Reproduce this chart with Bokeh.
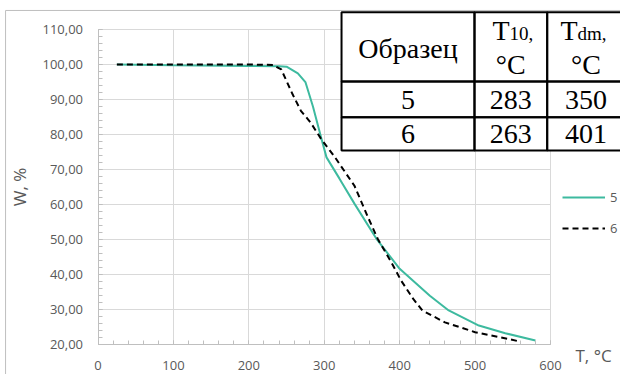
from bokeh.plotting import figure
from bokeh.models import (Range1d, CustomJSTickFormatter, Legend, LegendItem,
                          Label, BoxAnnotation, SingleIntervalTicker)
from bokeh.embed import file_html
from bokeh.resources import INLINE

# --- data ---
T5 = [25, 100, 200, 240, 250, 265, 275, 285, 296, 303, 320, 340, 370, 400, 440, 465, 505, 540, 580]
W5 = [100.0, 99.8, 99.6, 99.5, 99.4, 97.5, 95.0, 88.0, 79.0, 73.5, 67.5, 60.3, 50.0, 41.7, 34.0, 29.8, 25.5, 23.3, 21.2]

T6 = [25, 100, 200, 232, 243, 258, 269, 282, 296, 313, 340, 358, 371, 389, 402, 418, 430, 460, 500, 530, 558]
W6 = [100.0, 100.0, 100.0, 99.9, 98.6, 91.5, 86.8, 83.4, 78.7, 73.9, 65.4, 56.4, 50.2, 43.5, 38.3, 33.1, 29.8, 26.4, 23.6, 22.3, 21.0]

series_names = ["5", "6"]
table_col0_header = "Образец"
table_T_subs = ["10,", "dm,"]
table_rows = [["5", "283", "350"], ["6", "263", "401"]]

X_MIN, X_MAX = 0, 600
Y_MIN, Y_MAX = 20, 110

GRAY_TXT = "#595959"
AXIS_COL = "#bfbfbf"
GRID_COL = "#d9d9d9"
TEAL = "#3dba9f"
SANS = "Open Sans"
SERIF = "Liberation Serif"

# frame covers the whole canvas; axes sit at fixed data locations
p = figure(width=620, height=374, output_backend="svg", toolbar_location=None,
           x_range=Range1d(-129.3, 692.8), y_range=Range1d(11.52, 118.28),
           min_border=0, min_border_left=0, min_border_right=0,
           min_border_top=0, min_border_bottom=0)
p.outline_line_color = None
p.background_fill_color = "white"
p.border_fill_color = "white"

# outer chart border (only left/top edges are inside the picture)
p.add_layout(BoxAnnotation(left=-122.6, right=705, top=115.43, bottom=8,
                           fill_color=None, line_color="#bfbfbf", line_alpha=1, line_width=1))

xa = p.xaxis[0]
ya = p.yaxis[0]
xa.fixed_location = Y_MIN
ya.fixed_location = X_MIN
xa.bounds = (X_MIN, X_MAX)
ya.bounds = (Y_MIN, Y_MAX)
xa.ticker = SingleIntervalTicker(interval=100, num_minor_ticks=5)
ya.ticker = SingleIntervalTicker(interval=10, num_minor_ticks=5)
ya.formatter = CustomJSTickFormatter(code="return tick.toFixed(2).replace('.', ',');")
for ax in (xa, ya):
    ax.axis_line_color = AXIS_COL
    ax.major_tick_line_color = AXIS_COL
    ax.minor_tick_line_color = AXIS_COL
    ax.major_tick_in = 4
    ax.major_tick_out = 0
    ax.minor_tick_in = 4
    ax.minor_tick_out = 0
    ax.major_label_text_font = SANS
    ax.major_label_text_font_size = "13px"
    ax.major_label_text_color = GRAY_TXT
xa.major_label_standoff = 16
ya.major_label_standoff = 15
ya.axis_label = "W, %"
ya.axis_label_text_font = SANS
ya.axis_label_text_font_size = "17px"
ya.axis_label_text_font_style = "normal"
ya.axis_label_text_color = GRAY_TXT
ya.axis_label_standoff = 9

xg = p.xgrid[0]
yg = p.ygrid[0]
xg.bounds = (X_MIN, X_MAX)
xg.cross_bounds = (Y_MIN, Y_MAX)
yg.bounds = (Y_MIN, Y_MAX)
yg.cross_bounds = (X_MIN, X_MAX)
for g in (xg, yg):
    g.grid_line_color = GRID_COL
    g.grid_line_width = 1

r5 = p.line(T5, W5, line_color=TEAL, line_width=2)
r6 = p.line(T6, W6, line_color="black", line_width=2, line_dash="6 4")

# legend (location in px from the frame's bottom-left corner)
legend = Legend(items=[LegendItem(label=series_names[0], renderers=[r5]),
                       LegendItem(label=series_names[1], renderers=[r6])],
                location=(562, 136))
legend.border_line_color = None
legend.background_fill_alpha = 0
legend.padding = 0
legend.margin = 0
legend.spacing = 11
legend.glyph_width = 43
legend.glyph_height = 20
legend.label_height = 20
legend.label_standoff = 5
legend.label_text_font = SANS
legend.label_text_font_size = "13px"
legend.label_text_color = GRAY_TXT
p.add_layout(legend)

# x-axis title to the right of the axis end
p.add_layout(Label(x=633.1, y=17.0, text="T, °C", text_font=SANS, text_font_size="17px",
                   text_color=GRAY_TXT, text_baseline="middle", text_align="left"))

# --- inset table ---
xs = [322.9, 499.2, 595.6, 696.8]      # column boundaries
ys = [114.95, 95.16, 84.97, 75.46]     # row boundaries
p.add_layout(BoxAnnotation(left=xs[0], right=xs[3], top=ys[0], bottom=ys[3],
                           fill_color="white", fill_alpha=1, line_color=None))
for i in range(3):
    for j in range(3):
        p.add_layout(BoxAnnotation(left=xs[j], right=xs[j + 1], top=ys[i], bottom=ys[i + 1],
                                   fill_color=None, line_color="black", line_alpha=1,
                                   line_width=2))

cx = [411.0, 547.3, 647.0]
t_end = [None, 545.6, 635.8]

p.add_layout(Label(x=cx[0], y=104.5, text=table_col0_header, text_font=SERIF,
                   text_font_size="28px", text_color="black", text_align="center",
                   text_baseline="middle"))
for j, sub in zip([1, 2], table_T_subs):
    p.add_layout(Label(x=t_end[j], y=109.73, text="T", text_font=SERIF, text_font_size="28px",
                       text_color="black", text_align="right", text_baseline="middle"))
    p.add_layout(Label(x=t_end[j], y=108.94, text=sub, text_font=SERIF, text_font_size="19px",
                       text_color="black", text_align="left", text_baseline="middle"))
    p.add_layout(Label(x=cx[j], y=99.88, text="°C", text_font=SERIF, text_font_size="28px",
                       text_color="black", text_align="center", text_baseline="middle"))

row_mid = [89.88, 80.25]
for i, row in enumerate(table_rows):
    for j, txt in enumerate(row):
        p.add_layout(Label(x=cx[j], y=row_mid[i], text=txt, text_font=SERIF,
                           text_font_size="28px", text_color="black", text_align="center",
                           text_baseline="middle"))

open("out.html", "w").write(file_html(p, INLINE))
